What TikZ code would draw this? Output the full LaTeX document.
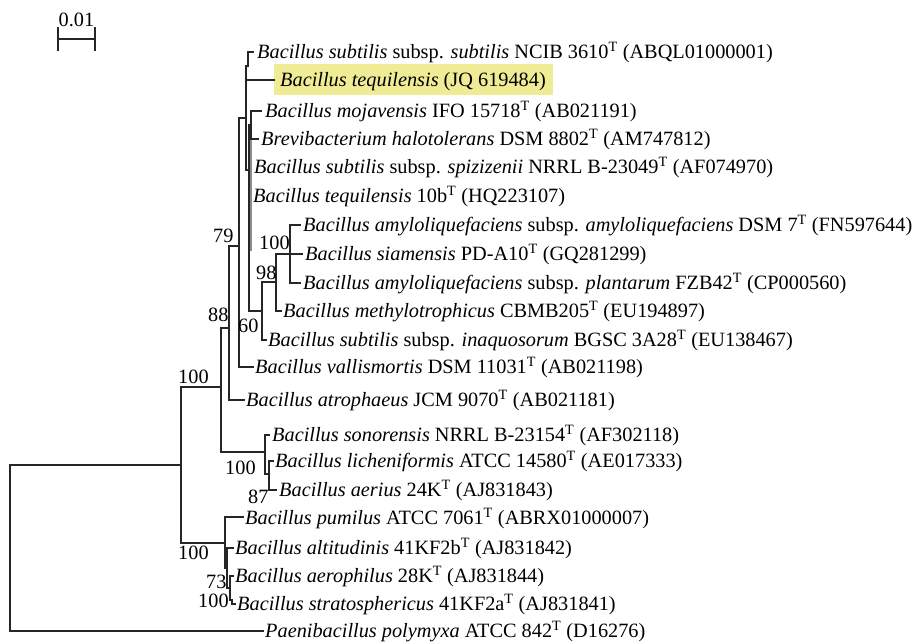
\documentclass[tikz,border=0pt]{standalone}
\usepackage{fontspec}
\setmainfont{Liberation Serif}
\newcommand{\supT}{\textsuperscript{T}}
\definecolor{hlyellow}{RGB}{240,236,150}
\begin{document}
\begin{tikzpicture}[x=1pt,y=-1pt,
  br/.style={line width=1.2pt, draw=black!85, line cap=rect},
  leaf/.style={anchor=base west, inner sep=0pt, yshift=-6.6pt, font=\fontsize{20.3}{24}\selectfont},
  bs/.style={anchor=base west, inner sep=0pt, font=\fontsize{20.3}{24}\selectfont}]
\useasboundingbox (0,0) rectangle (918,643);

% scale bar
\draw[br] (58,39) -- (95,39);
\draw[br] (58,28) -- (58,50);
\draw[br] (95,28) -- (95,50);
\node[bs, anchor=base] (sl) at (76.5,26) {0.01};

% highlight
\fill[hlyellow] (274,64) rectangle (553,95);

% leaf tips
\coordinate (e1) at (253,52);
\coordinate (e2) at (274,80);
\coordinate (e3) at (261,111);
\coordinate (e4) at (258,139);
\coordinate (e5) at (251,167);
\coordinate (e6) at (251,196);
\coordinate (e7) at (300,225);
\coordinate (e8) at (302,254);
\coordinate (e9) at (300,283);
\coordinate (e10) at (281,311);
\coordinate (e11) at (266,340);
\coordinate (e12) at (253,367);
\coordinate (e13) at (244,400);
\coordinate (e14) at (269,435);
\coordinate (e15) at (273,461);
\coordinate (e16) at (276,490);
\coordinate (e17) at (243,517);
\coordinate (e18) at (233,548);
\coordinate (e19) at (233,576);
\coordinate (e20) at (235,604);
\coordinate (e21) at (263,631);

% leaf labels
\node[leaf] (t1) at (257,52) {\textit{Bacillus subtilis} subsp. \textit{subtilis} NCIB 3610\supT{} (ABQL01000001)};
\node[leaf] (t2) at (280,80) {\textit{Bacillus tequilensis} (JQ 619484)};
\node[leaf] (t3) at (265,111) {\textit{Bacillus mojavensis} IFO 15718\supT{} (AB021191)};
\node[leaf] (t4) at (261,139) {\textit{Brevibacterium halotolerans} DSM 8802\supT{} (AM747812)};
\node[leaf] (t5) at (254,167) {\textit{Bacillus subtilis} subsp. \textit{spizizenii} NRRL B-23049\supT{} (AF074970)};
\node[leaf] (t6) at (253,196) {\textit{Bacillus tequilensis} 10b\supT{} (HQ223107)};
\node[leaf] (t7) at (303,225) {\textit{Bacillus amyloliquefaciens} subsp. \textit{amyloliquefaciens} DSM 7\supT{} (FN597644)};
\node[leaf] (t8) at (305,254) {\textit{Bacillus siamensis} PD-A10\supT{} (GQ281299)};
\node[leaf] (t9) at (303,283) {\textit{Bacillus amyloliquefaciens} subsp. \textit{plantarum} FZB42\supT{} (CP000560)};
\node[leaf] (t10) at (283,311) {\textit{Bacillus methylotrophicus} CBMB205\supT{} (EU194897)};
\node[leaf] (t11) at (268,340) {\textit{Bacillus subtilis} subsp. \textit{inaquosorum} BGSC 3A28\supT{} (EU138467)};
\node[leaf] (t12) at (255,367) {\textit{Bacillus vallismortis} DSM 11031\supT{} (AB021198)};
\node[leaf] (t13) at (246,400) {\textit{Bacillus atrophaeus} JCM 9070\supT{} (AB021181)};
\node[leaf] (t14) at (272,435) {\textit{Bacillus sonorensis} NRRL B-23154\supT{} (AF302118)};
\node[leaf] (t15) at (275,461) {\textit{Bacillus licheniformis} ATCC 14580\supT{} (AE017333)};
\node[leaf] (t16) at (279,490) {\textit{Bacillus aerius} 24K\supT{} (AJ831843)};
\node[leaf] (t17) at (245,518) {\textit{Bacillus pumilus} ATCC 7061\supT{} (ABRX01000007)};
\node[leaf] (t18) at (235,548) {\textit{Bacillus altitudinis} 41KF2b\supT{} (AJ831842)};
\node[leaf] (t19) at (235,576) {\textit{Bacillus aerophilus} 28K\supT{} (AJ831844)};
\node[leaf] (t20) at (237,604) {\textit{Bacillus stratosphericus} 41KF2a\supT{} (AJ831841)};
\node[leaf] (t21) at (265,631) {\textit{Paenibacillus polymyxa} ATCC 842\supT{} (D16276)};

% internal nodes
\coordinate (root) at (10,548);
\coordinate (N1) at (181,465);
\coordinate (N2) at (221,387);
\coordinate (N3) at (229,328);
\coordinate (N4) at (239,246);
\coordinate (N5) at (246,118);
\coordinate (N5a) at (248,66);
\coordinate (N5b) at (249,170);
\coordinate (M) at (251,125);
\coordinate (F) at (262,311);
\coordinate (G) at (276,282);
\coordinate (H) at (290,254);
\coordinate (N7) at (265,452);
\coordinate (N7b) at (269,474);
\coordinate (N6) at (225,543);
\coordinate (N6a) at (227,568);
\coordinate (N6b) at (230,588);
\coordinate (N6c) at (232,600);

% branches
\draw[br] (root |- N1) -- (root |- e21);
\draw[br] (root |- N1) -- (N1);
\draw[br] (root |- e21) -- (e21);

\draw[br] (N1 |- N2) -- (N1 |- N6);
\draw[br] (N1 |- N2) -- (N2);
\draw[br] (N1 |- N6) -- (N6);

\draw[br] (N2 |- N3) -- (N2 |- N7);
\draw[br] (N2 |- N3) -- (N3);
\draw[br] (N2 |- N7) -- (N7);

\draw[br] (N3 |- N4) -- (N3 |- e13);
\draw[br] (N3 |- N4) -- (N4);
\draw[br] (N3 |- e13) -- (e13);

\draw[br] (N4 |- N5) -- (N4 |- e12);
\draw[br] (N4 |- N5) -- (N5);
\draw[br] (N4 |- e12) -- (e12);

\draw[br] (N5 |- N5a) -- (N5 |- N5b);
\draw[br] (N5 |- N5a) -- (N5a);
\draw[br] (N5 |- e2) -- (e2);
\draw[br] (N5 |- N5b) -- (N5b);

\draw[br] (N5a |- e1) -- (N5a);
\draw[br] (N5a |- e1) -- (e1);

\draw[br] (N5b |- M) -- (N5b |- F);
\draw[br] (N5b |- M) -- (M);
\draw[br] (N5b |- e5) -- (e5);
\draw[br] (N5b |- e6) -- (e6);
\draw[br] (N5b |- F) -- (F);
\draw[br, draw=black!45] (251,139) -- (251,250);

\draw[br] (M |- e3) -- (M |- e4);
\draw[br] (M |- e3) -- (e3);
\draw[br] (M |- e4) -- (e4);

\draw[br] (F |- G) -- (F |- e11);
\draw[br] (F |- G) -- (G);
\draw[br] (F |- e11) -- (e11);

\draw[br] (G |- H) -- (G |- e10);
\draw[br] (G |- H) -- (H);
\draw[br] (G |- e10) -- (e10);

\draw[br] (H |- e7) -- (H |- e9);
\draw[br] (H |- e7) -- (e7);
\draw[br] (H |- e8) -- (e8);
\draw[br] (H |- e9) -- (e9);

\draw[br] (N7 |- e14) -- (N7 |- N7b);
\draw[br] (N7 |- e14) -- (e14);
\draw[br] (N7 |- N7b) -- (N7b);

\draw[br] (N7b |- e15) -- (N7b |- e16);
\draw[br] (N7b |- e15) -- (e15);
\draw[br] (N7b |- e16) -- (e16);

\draw[br] (N6 |- e17) -- (N6 |- N6a);
\draw[br] (N6 |- e17) -- (e17);
\draw[br] (N6 |- N6a) -- (N6a);

\draw[br] (N6a |- e18) -- (N6a |- N6b);
\draw[br] (N6a |- e18) -- (e18);
\draw[br] (N6a |- N6b) -- (N6b);

\draw[br] (N6b |- e19) -- (N6b |- N6c);
\draw[br] (N6b |- e19) -- (e19);
\draw[br] (N6b |- N6c) -- (N6c);

\draw[br] (N6c) -- (N6c |- e20);
\draw[br] (N6c |- e20) -- (e20);

% bootstrap values
\node[bs] (b1) at (178,383) {100};
\node[bs] (b2) at (208,321) {88};
\node[bs] (b3) at (213,242) {79};
\node[bs] (b4) at (259,249) {100};
\node[bs] (b5) at (256,279) {98};
\node[bs] (b6) at (238,332) {60};
\node[bs] (b7) at (225,474) {100};
\node[bs] (b8) at (248,503) {87};
\node[bs] (b9) at (178,559) {100};
\node[bs] (b10) at (206,588) {73};
\node[bs] (b11) at (198,607) {100};
\end{tikzpicture}
\end{document}
